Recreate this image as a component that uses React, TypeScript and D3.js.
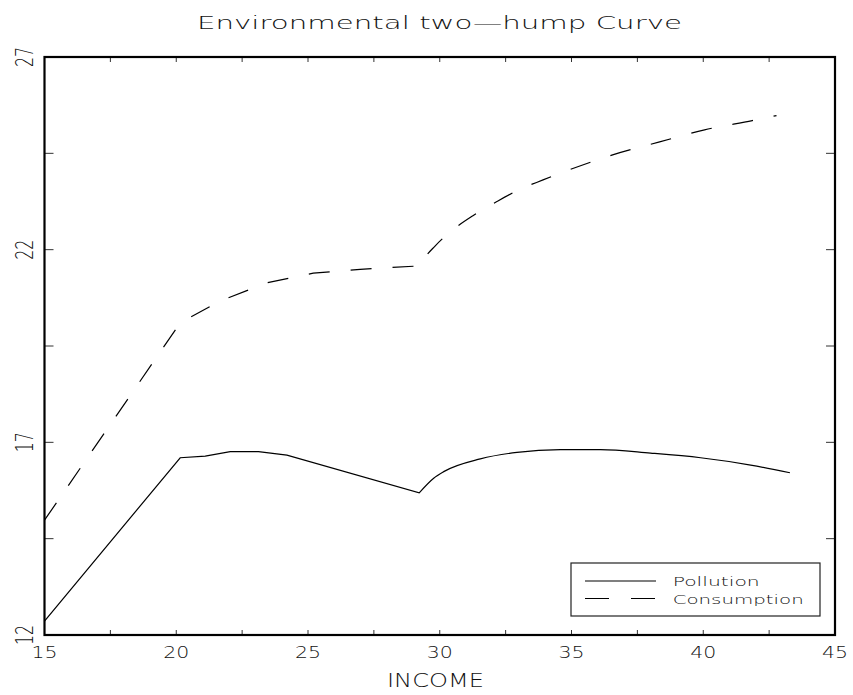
import React from "react";
import * as d3 from "d3";

const title = "Environmental two\u2014hump Curve";
const xLabel = "INCOME";
const xTicksLabeled = [15, 20, 25, 30, 35, 40, 45];
const xTicksAll = [15, 17.5, 20, 22.5, 25, 27.5, 30, 32.5, 35, 37.5, 40, 42.5, 45];
const yTicksLabeled = [12, 17, 22, 27];
const yTicksAll = [12, 14.5, 17, 19.5, 22, 24.5, 27];

const pollutionX = [15, 20.15, 21.1, 22.05, 23.12, 24.2, 29.22, 29.77, 30.15, 31.54, 32.93, 34.58, 36.1, 38.0, 39.9, 41.8, 43.29];
const pollutionY = [12.36, 16.6, 16.64, 16.76, 16.76, 16.67, 15.69, 16.07, 16.24, 16.57, 16.74, 16.81, 16.81, 16.72, 16.6, 16.41, 16.21];

const consumptionX = [15, 20.15, 21.67, 23.44, 25.2, 26.98, 29.28, 29.39, 29.83, 30.49, 31.26, 32.17, 32.99, 33.92, 34.79, 36.56, 38.31, 40.05, 41.86, 42.78];
const consumptionY = [14.98, 20.1, 20.67, 21.14, 21.39, 21.49, 21.58, 21.73, 22.1, 22.51, 22.88, 23.25, 23.55, 23.81, 24.04, 24.46, 24.79, 25.11, 25.35, 25.48];

const legendNames = ["Pollution", "Consumption"];

const W = 853;
const H = 695;
const L = 44.5, R = 835, T = 57, B = 635;
const FONT = "'DejaVu Sans', 'Liberation Sans', sans-serif";

export default function App() {
  const x = d3.scaleLinear().domain([15, 45]).range([L, R]);
  const y = d3.scaleLinear().domain([12, 27]).range([B, T]);
  const lin = d3
    .line<[number, number]>()
    .x((d) => x(d[0]))
    .y((d) => y(d[1]));
  const smooth = d3
    .line<[number, number]>()
    .x((d) => x(d[0]))
    .y((d) => y(d[1]))
    .curve(d3.curveMonotoneX);
  const pol = pollutionX.map((v, i) => [v, pollutionY[i]] as [number, number]);
  const con = consumptionX.map((v, i) => [v, consumptionY[i]] as [number, number]);
  // polyline up to the trough, smooth afterwards
  const polD = (lin(pol.slice(0, 7)) || "") + (smooth(pol.slice(6)) || "").replace(/^M[^LC]*/, "");
  const conD = (lin(con.slice(0, 7)) || "") + (smooth(con.slice(6)) || "").replace(/^M[^LC]*/, "");

  return (
    <svg
      width={W}
      height={H}
      style={{ position: "absolute", left: 0, top: 0, background: "#fff" }}
      fontFamily={FONT}
    >
      <rect x={0} y={0} width={W} height={H} fill="#fff" />
      <text
        x={439.5}
        y={29}
        textAnchor="middle"
        fontSize={17}
        fontWeight={300}
        textLength={485}
        lengthAdjust="spacingAndGlyphs"
        fill="#111"
      >
        {title}
      </text>

      {/* ticks */}
      {xTicksAll.map((t) => (
        <g key={"xt" + t}>
          <line x1={x(t)} x2={x(t)} y1={B} y2={B - 5} stroke="#333" strokeWidth={1} />
          <line x1={x(t)} x2={x(t)} y1={T} y2={T + 5} stroke="#333" strokeWidth={1} />
        </g>
      ))}
      {yTicksAll.map((t) => (
        <g key={"yt" + t}>
          <line x1={L} x2={L + 9} y1={y(t)} y2={y(t)} stroke="#333" strokeWidth={1} />
          <line x1={R} x2={R - 9} y1={y(t)} y2={y(t)} stroke="#333" strokeWidth={1} />
        </g>
      ))}

      {/* frame */}
      <rect x={L} y={T} width={R - L} height={B - T} fill="none" stroke="#000" strokeWidth={2.2} />

      {/* x labels */}
      {xTicksLabeled.map((t) => (
        <text
          key={"xl" + t}
          x={x(t)}
          y={658}
          textAnchor="middle"
          fontSize={16}
          fontWeight={300}
          textLength={26}
          lengthAdjust="spacingAndGlyphs"
          fill="#111"
        >
          {t}
        </text>
      ))}
      <text
        x={435.5}
        y={687}
        textAnchor="middle"
        fontSize={19}
        fontWeight={300}
        textLength={97}
        lengthAdjust="spacingAndGlyphs"
        fill="#111"
      >
        {xLabel}
      </text>

      {/* y labels */}
      {yTicksLabeled.map((t) => (
        <text
          key={"yl" + t}
          transform={`translate(33,${y(t)}) rotate(-90)`}
          textAnchor="middle"
          fontSize={24}
          fontWeight={300}
          textLength={20}
          lengthAdjust="spacingAndGlyphs"
          fill="#111"
        >
          {t}
        </text>
      ))}

      {/* series */}
      <path d={polD} fill="none" stroke="#000" strokeWidth={1.2} />
      <path d={conD} fill="none" stroke="#000" strokeWidth={1.2} strokeDasharray="21 21" />

      {/* legend */}
      <rect x={571} y={563} width={249} height={53} fill="#fff" stroke="#222" strokeWidth={1.2} />
      <line x1={585} x2={656} y1={581} y2={581} stroke="#000" strokeWidth={1.2} />
      <line x1={585} x2={656} y1={598.5} y2={598.5} stroke="#000" strokeWidth={1.2} strokeDasharray="24 22" />
      <text x={672.7} y={586} fontSize={13} fontWeight={300} textLength={87} lengthAdjust="spacingAndGlyphs" fill="#111">
        {legendNames[0]}
      </text>
      <text x={672.7} y={603.5} fontSize={13} fontWeight={300} textLength={131} lengthAdjust="spacingAndGlyphs" fill="#111">
        {legendNames[1]}
      </text>
    </svg>
  );
}
